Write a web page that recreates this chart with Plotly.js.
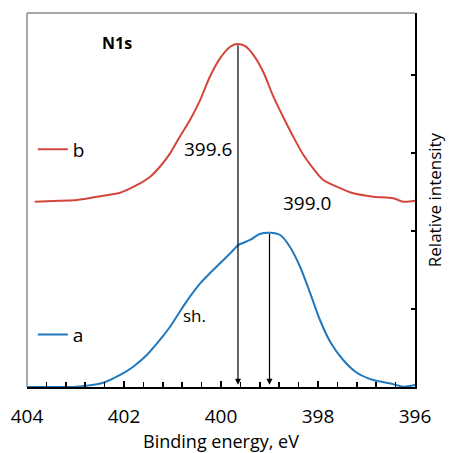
<!DOCTYPE html>
<html>
<head>
<meta charset="utf-8">
<script src="https://cdn.plot.ly/plotly-3.0.1.min.js"></script>
<style>html,body{margin:0;padding:0;background:#fff;}#chart{width:451px;height:453px;}</style>
</head>
<body>
<div id="chart"></div>
<script>
// Binding energy (eV) and relative intensity
const energyB = [403.84,403.46,402.97,402.43,402.08,401.73,401.46,401.26,401.05,400.85,400.64,400.43,400.23,400.02,399.81,399.67,399.51,399.33,399.13,398.92,398.72,398.51,398.30,398.10,397.89,397.61,397.27,396.86,396.45,396.24,396.00];
const intensityB = [2.376,2.385,2.397,2.453,2.491,2.590,2.696,2.824,2.996,3.209,3.423,3.679,3.978,4.214,4.363,4.397,4.372,4.256,4.042,3.722,3.465,3.209,2.974,2.804,2.654,2.568,2.483,2.440,2.419,2.376,2.388];
const energyA = [404.0,403.46,402.98,402.43,402.08,401.81,401.53,401.26,401.05,400.85,400.64,400.43,400.23,400.02,399.81,399.64,399.40,399.20,398.99,398.78,398.58,398.37,398.16,397.96,397.75,397.48,397.20,396.86,396.52,396.24,396.00];
const intensityA = [0.0,0.0,0.004,0.055,0.154,0.260,0.410,0.603,0.773,0.965,1.158,1.329,1.458,1.586,1.714,1.821,1.885,1.962,1.978,1.949,1.799,1.542,1.201,0.859,0.581,0.346,0.183,0.090,0.047,0.004,0.026];
const seriesNames = ['b','a'];
const peakLabels = ['399.6','399.0'];
const peakEnergies = [399.65, 399.0];
const peakTops = [4.40, 1.98];
const xTickVals = [404,402,400,398,396];
const xTickText = ['404','402','400','398','396'];

const FONT = 'Open Sans, Noto Sans, sans-serif';
const RED = '#d4453c', BLUE = '#2178bd';

const traces = [
  {x: energyB, y: intensityB, type:'scatter', mode:'lines', name: seriesNames[0],
   line:{color:RED, width:2, shape:'spline', smoothing:0.8}, legend:'legend'},
  {x: energyA, y: intensityA, type:'scatter', mode:'lines', name: seriesNames[1],
   line:{color:BLUE, width:2, shape:'spline', smoothing:0.8}, legend:'legend2'}
];

const annotations = [
  {x:402.14, y:4.41, xref:'x', yref:'y', text:'<b>N1s</b>', showarrow:false,
   font:{family:FONT, size:16, color:'#000'}},
  {x:400.27, y:3.05, xref:'x', yref:'y', text:peakLabels[0], showarrow:false,
   font:{family:FONT, size:19, color:'#000'}},
  {x:398.23, y:2.36, xref:'x', yref:'y', text:peakLabels[1], showarrow:false,
   font:{family:FONT, size:19, color:'#000'}},
  {x:400.54, y:0.92, xref:'x', yref:'y', text:'sh.', showarrow:false,
   font:{family:FONT, size:17, color:'#000'}}
];
for (let i=0;i<2;i++){
  annotations.push({x:peakEnergies[i], y:0.03, ax:peakEnergies[i], ay:peakTops[i],
    xref:'x', yref:'y', axref:'x', ayref:'y', text:'', showarrow:true,
    arrowhead:2, arrowsize:1, arrowwidth:1.2, arrowcolor:'#000', standoff:0, startstandoff:0});
}

const layout = {
  width:451, height:453,
  margin:{l:27, r:36, t:13, b:66},
  paper_bgcolor:'#fff', plot_bgcolor:'#fff',
  font:{family:FONT, color:'#000'},
  showlegend:true,
  legend:{x:0.015, y:0.635, xanchor:'left', yanchor:'middle', bgcolor:'rgba(0,0,0,0)',
    font:{family:FONT, size:19, color:'#000'}, itemwidth:30},
  legend2:{x:0.015, y:0.14, xanchor:'left', yanchor:'middle', bgcolor:'rgba(0,0,0,0)',
    font:{family:FONT, size:19, color:'#000'}, itemwidth:30},
  xaxis:{range:[404,396], tickvals:xTickVals, ticktext:xTickText,
    ticks:'inside', ticklen:6, tickwidth:1.5, tickcolor:'#000',
    minor:{dtick:0.4, ticks:'inside', ticklen:5, tickwidth:1.5, tickcolor:'#000'},
    showline:true, linecolor:'#000', linewidth:2, showgrid:false, zeroline:false,
    ticklabelstandoff:11,
    tickfont:{family:FONT, size:19, color:'#000'},
    title:{text:'Binding energy, eV', font:{family:FONT, size:18, color:'#000'}, standoff:7}},
  yaxis:{range:[0,4.795], side:'right', tickvals:[1,2,3,4], showticklabels:false,
    ticks:'inside', ticklen:4, tickwidth:1.5, tickcolor:'#000',
    showline:true, linecolor:'#000', linewidth:2, showgrid:false, zeroline:false,
    title:{text:'Relative intensity', font:{family:FONT, size:17, color:'#000'}, standoff:13}},
  shapes:[
    {type:'line', xref:'paper', yref:'paper', x0:0, x1:0, y0:0, y1:1, line:{color:'#8a8a8a', width:1.5}},
    {type:'line', xref:'paper', yref:'paper', x0:0, x1:1, y0:1, y1:1, line:{color:'#8a8a8a', width:1.5}}
  ],
  annotations: annotations
};

Plotly.newPlot('chart', traces, layout, {displayModeBar:false, staticPlot:true});
</script>
</body>
</html>
